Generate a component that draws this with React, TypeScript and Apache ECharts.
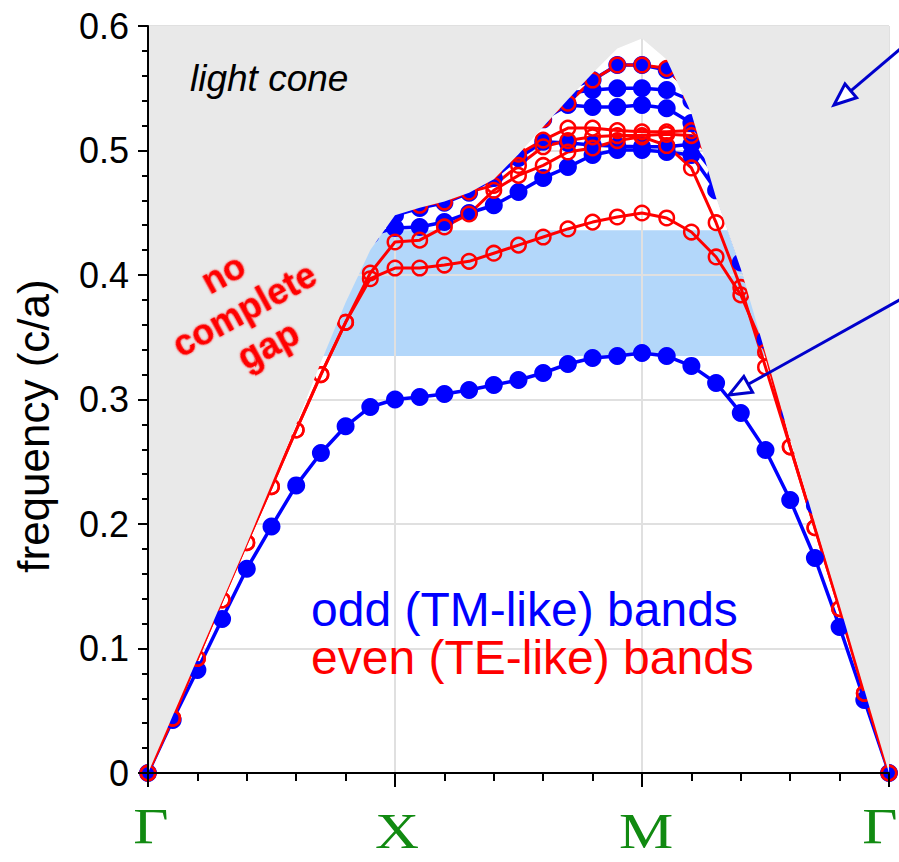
import React, { useEffect, useRef } from 'react';
import * as echarts from 'echarts';

// k-point index along the path Γ → X → M → Γ (10 steps per segment)
const kPoints = [
  0, 1, 2, 3, 4, 5, 6, 7, 8, 9, 10, 11, 12, 13, 14, 15, 16, 17, 18, 19, 20,
  21, 22, 23, 24, 25, 26, 27, 28, 29, 30,
];
const kTickValues = [0, 10, 20, 30];
const kTickNames = ['Γ', 'X', 'M', 'Γ'];
const freqTicks = [0, 0.1, 0.2, 0.3, 0.4, 0.5, 0.6];

// light line: everything above it is inside the light cone
const lightLine = [
  0, 0.046, 0.092, 0.138, 0.184, 0.232, 0.28, 0.33, 0.378, 0.42, 0.448,
  0.454, 0.459, 0.466, 0.477, 0.497, 0.519, 0.541, 0.562, 0.582, 0.59,
  0.573, 0.53, 0.462, 0.405, 0.337, 0.268, 0.201, 0.135, 0.067, 0,
];

// TM-like band gap below the light cone
const gapBottom = 0.335;
const gapTop = 0.436;

// odd (TM-like) bands
const odd1 = [
  0, 0.0426, 0.0827, 0.1237, 0.164, 0.198, 0.231, 0.257, 0.2785, 0.294, 0.3,
  0.302, 0.3044, 0.3076, 0.3116, 0.3157, 0.3213, 0.3285, 0.3333, 0.3349, 0.3373,
  0.3349, 0.327, 0.3133, 0.2892, 0.2594, 0.2193, 0.1727, 0.1173, 0.0586, 0,
];
const odd2 = [
  null, null, null, null, null, null, null, null, null, 0.432, 0.4378,
  0.4386, 0.4426, 0.4498, 0.456, 0.4667, 0.478, 0.4867, 0.4964, 0.5004, 0.5004,
  0.4988, 0.4964, 0.468, 0.41, 0.348, 0.289, 0.215, null, null, null,
];
const odd3 = [
  null, null, null, null, null, null, null, null, null, 0.44, 0.448,
  0.4538, 0.458, 0.466, 0.478, 0.494, 0.507, 0.506, 0.5044, 0.5035, 0.503,
  0.503, 0.505, 0.48, null, null, null, null, null, null, null,
];
const odd4 = [
  null, null, null, null, null, null, null, null, null, null, null,
  null, null, null, null, null, 0.525, 0.5365, 0.535, 0.535, 0.5365,
  0.534, 0.522, 0.49, null, null, null, null, null, null, null,
];
const odd5 = [
  null, null, null, null, null, null, null, null, null, null, null,
  null, null, null, null, null, null, 0.546, 0.5486, 0.55, 0.55,
  0.5486, 0.54, null, null, null, null, null, null, null, null,
];
const odd6 = [
  null, null, null, null, null, null, null, null, null, null, null,
  null, null, null, null, null, null, 0.55, 0.5566, 0.5687, 0.5687,
  0.5647, 0.548, null, null, null, null, null, null, null, null,
];

// even (TE-like) bands
const even1 = [
  0, 0.044, 0.092, 0.139, 0.185, 0.23, 0.2755, 0.32, 0.362, 0.397, 0.4056,
  0.4056, 0.408, 0.411, 0.4175, 0.424, 0.4305, 0.437, 0.4425, 0.4466, 0.4498,
  0.4458, 0.4345, 0.4145, 0.384, 0.338, 0.262, 0.197, 0.132, 0.064, 0,
];
const even2 = [
  0, 0.044, 0.092, 0.139, 0.185, 0.23, 0.2755, 0.32, 0.362, 0.4016, 0.4265,
  0.428, 0.4386, 0.449, 0.468, 0.48, 0.488, 0.4988, 0.502, 0.508, 0.511,
  0.504, 0.486, 0.442, 0.39, 0.326, 0.262, 0.197, 0.132, 0.064, 0,
];
const even3 = [
  null, null, null, null, null, null, null, null, null, null, null,
  0.456, 0.4586, 0.4667, 0.472, 0.488, 0.503, 0.508, 0.511, 0.512, 0.512,
  0.513, 0.512, 0.49, null, null, null, null, null, null, null,
];
const even4 = [
  null, null, null, null, null, null, null, null, null, null, null,
  null, null, null, 0.485, 0.497, 0.5084, 0.518, 0.518, 0.516, 0.515,
  0.515, 0.516, 0.49, null, null, null, null, null, null, null,
];
const even5 = [
  null, null, null, null, null, null, null, null, null, null, null,
  null, null, null, null, null, 0.525, 0.538, 0.5566, 0.5687, 0.5687,
  0.566, 0.545, null, null, null, null, null, null, null, null,
];

const oddBands = [odd1, odd2, odd3, odd4, odd5, odd6];
const evenBands = [even1, even2, even3, even4, even5];

const BLUE = '#0000ff';
const RED = '#ff0000';
const ARROW = '#0000cc';
const CONE = '#e9e9e9';
const GAP = '#b3d7fa';
const GRIDLINE = '#e0e0e0';
const LABEL_GREEN = '#118a11';

const toPairs = (vals: (number | null)[]) =>
  kPoints.map((k, i) => [k, vals[i] === null ? '-' : vals[i]]);

const arrowHead = (tip: number[], dir: number[], len: number, half: number) => {
  const bx = tip[0] + dir[0] * len;
  const by = tip[1] + dir[1] * len;
  const nx = -dir[1];
  const ny = dir[0];
  return {
    base: [bx, by],
    points: [
      [tip[0], tip[1]],
      [bx + nx * half, by + ny * half],
      [bx - nx * half, by - ny * half],
    ],
  };
};

const arrow = (tip: number[], tail: number[]) => {
  const dx = tail[0] - tip[0];
  const dy = tail[1] - tip[1];
  const d = Math.hypot(dx, dy);
  const dir = [dx / d, dy / d];
  const head = arrowHead(tip, dir, 22, 9);
  return [
    {
      type: 'line',
      z: 20,
      shape: { x1: head.base[0], y1: head.base[1], x2: tail[0], y2: tail[1] },
      style: { stroke: ARROW, lineWidth: 3 },
    },
    {
      type: 'polygon',
      z: 21,
      shape: { points: head.points },
      style: { fill: '#ffffff', stroke: ARROW, lineWidth: 3, lineJoin: 'miter' },
    },
  ];
};

// small nudges of the k-point names relative to their ticks
const kLabelNudge = [3, 2, 4, -9];
const kLabelDrop = [53, 58, 58, 53];

export default function App() {
  const ref = useRef<HTMLDivElement>(null);

  useEffect(() => {
    if (!ref.current) return;
    const chart = echarts.init(ref.current, undefined, { renderer: 'svg' });

    const oddSeries = oddBands.map((band, i) => ({
      type: 'line',
      name: `odd ${i + 1}`,
      xAxisIndex: 0,
      yAxisIndex: 0,
      data: toPairs(band),
      symbol: 'circle',
      symbolSize: 18,
      showAllSymbol: true,
      connectNulls: false,
      lineStyle: { color: BLUE, width: 3.5 },
      itemStyle: { color: BLUE },
      z: 3,
      silent: true,
    }));

    const evenSeries = evenBands.map((band, i) => ({
      type: 'line',
      name: `even ${i + 1}`,
      xAxisIndex: 0,
      yAxisIndex: 0,
      data: toPairs(band),
      symbol: 'circle',
      symbolSize: 14.5,
      showAllSymbol: true,
      connectNulls: false,
      lineStyle: { color: RED, width: 3 },
      itemStyle: { color: 'rgba(0,0,0,0)', borderColor: RED, borderWidth: 2.5 },
      z: 3,
      silent: true,
    }));

    const option = {
      animation: false,
      backgroundColor: '#ffffff',
      grid: {
        left: 148,
        top: 26,
        width: 741,
        height: 747,
        containLabel: false,
        outerBoundsMode: 'none',
      },
      xAxis: [
        {
          type: 'value',
          position: 'bottom',
          min: kTickValues[0],
          max: kTickValues[kTickValues.length - 1],
          interval: 10,
          z: 2,
          axisLine: { show: false },
          axisTick: { show: false },
          axisLabel: { show: false },
          splitLine: { show: true, lineStyle: { color: GRIDLINE, width: 2 } },
        },
        {
          type: 'value',
          position: 'bottom',
          min: kTickValues[0],
          max: kTickValues[kTickValues.length - 1],
          interval: 10,
          z: 5,
          axisLine: { show: true, onZero: false, lineStyle: { color: '#000', width: 2 } },
          axisTick: { show: true, length: 14, lineStyle: { color: '#000', width: 2 } },
          minorTick: { show: true, splitNumber: 5, length: 8, lineStyle: { color: '#000', width: 2 } },
          splitLine: { show: false },
          axisLabel: { show: false },
        },
      ],
      yAxis: [
        {
          type: 'value',
          position: 'left',
          min: freqTicks[0],
          max: freqTicks[freqTicks.length - 1],
          interval: 0.1,
          z: 2,
          axisLine: { show: false },
          axisTick: { show: false },
          axisLabel: { show: false },
          splitLine: { show: true, lineStyle: { color: GRIDLINE, width: 2 } },
        },
        {
          type: 'value',
          position: 'left',
          min: freqTicks[0],
          max: freqTicks[freqTicks.length - 1],
          interval: 0.1,
          z: 5,
          axisLine: { show: true, onZero: false, lineStyle: { color: '#000', width: 2 } },
          axisTick: { show: true, length: 10, lineStyle: { color: '#000', width: 2 } },
          minorTick: { show: true, splitNumber: 5, length: 6, lineStyle: { color: '#000', width: 2 } },
          splitLine: { show: false },
          axisLabel: {
            formatter: (v: number) => (v === 0 ? '0' : v.toFixed(1)),
            color: '#000',
            fontFamily: 'Liberation Sans',
            fontSize: 36,
            margin: 19,
          },
        },
      ],
      series: [
        {
          type: 'custom',
          name: 'gap',
          xAxisIndex: 0,
          yAxisIndex: 0,
          z: 1,
          silent: true,
          data: [[kPoints[0], gapBottom]],
          renderItem: (_params: any, api: any) => {
            const p1 = api.coord([kPoints[0], gapTop]);
            const p2 = api.coord([kPoints[kPoints.length - 1], gapBottom]);
            return {
              type: 'rect',
              shape: { x: p1[0], y: p1[1], width: p2[0] - p1[0], height: p2[1] - p1[1] },
              style: { fill: GAP },
            };
          },
        },
        ...oddSeries,
        ...evenSeries,
        {
          type: 'line',
          name: 'light cone',
          xAxisIndex: 0,
          yAxisIndex: 0,
          data: toPairs(lightLine),
          symbol: 'none',
          lineStyle: { width: 0, opacity: 0 },
          areaStyle: { origin: 'end', color: CONE, opacity: 1 },
          z: 4,
          silent: true,
        },
      ],
    };

    chart.setOption(option as any);

    // k-point names placed under their ticks, using the axis scale
    const baseY = chart.convertToPixel({ yAxisIndex: 0 }, 0) as number;
    const kLabels = kTickValues.map((v, i) => {
      const px = chart.convertToPixel({ xAxisIndex: 0 }, v) as number;
      return {
        type: 'text',
        z: 10,
        x: px + kLabelNudge[i],
        y: baseY + kLabelDrop[i],
        scaleX: 1.22,
        style: {
          text: kTickNames[i],
          fill: LABEL_GREEN,
          fontFamily: 'Liberation Serif',
          fontSize: 50,
          align: 'center',
          verticalAlign: 'middle',
        },
      };
    });

    chart.setOption({
      graphic: [
        ...kLabels,
        {
          type: 'text',
          z: 10,
          x: 190,
          y: 78,
          style: {
            text: 'light cone',
            fill: '#000',
            fontFamily: 'Liberation Sans',
            fontStyle: 'italic',
            fontSize: 37,
            verticalAlign: 'middle',
          },
        },
        {
          type: 'text',
          z: 10,
          x: 33,
          y: 426,
          rotation: Math.PI / 2,
          style: {
            text: 'frequency (c/a)',
            fill: '#000',
            fontFamily: 'Liberation Sans',
            fontSize: 44,
            align: 'center',
            verticalAlign: 'middle',
          },
        },
        {
          type: 'text',
          z: 10,
          x: 311,
          y: 609,
          style: {
            text: 'odd (TM-like) bands',
            fill: BLUE,
            fontFamily: 'Liberation Sans',
            fontSize: 48,
            verticalAlign: 'middle',
          },
        },
        {
          type: 'text',
          z: 10,
          x: 311,
          y: 657,
          style: {
            text: 'even (TE-like) bands',
            fill: RED,
            fontFamily: 'Liberation Sans',
            fontSize: 48,
            verticalAlign: 'middle',
          },
        },
        ...[
          { t: 'no', x: 223, y: 273 },
          { t: 'complete', x: 244, y: 309 },
          { t: 'gap', x: 268, y: 345 },
        ].map((l) => ({
          type: 'text',
          z: 10,
          x: l.x,
          y: l.y,
          rotation: 0.5,
          style: {
            text: l.t,
            fill: RED,
            fontFamily: 'Liberation Sans',
            fontWeight: 'bold',
            fontSize: 36,
            align: 'center',
            verticalAlign: 'middle',
            textShadowColor: 'rgba(255,0,0,0.7)',
            textShadowBlur: 2,
          },
        })),
        ...arrow([834, 105], [905, 45]),
        ...arrow([729, 395], [905, 297]),
      ],
    } as any);

    return () => chart.dispose();
  }, []);

  return (
    <div
      ref={ref}
      style={{ position: 'absolute', left: 0, top: 0, width: 899, height: 862 }}
    />
  );
}
